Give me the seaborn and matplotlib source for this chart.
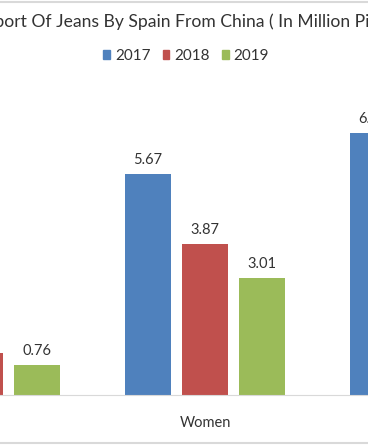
import pandas as pd
import matplotlib.pyplot as plt
import seaborn as sns
from matplotlib.lines import Line2D

# data (hidden bars are estimates)
categories = ['Men', 'Women', 'Kids']
years = ['2017', '2018', '2019']
values_2017 = [1.52, 5.67, 6.72]
values_2018 = [1.08, 3.87, 4.46]
values_2019 = [0.76, 3.01, 3.92]
colors = ['#4F81BD', '#C0504D', '#9BBB59']

rows = []
for yr, vals in zip(years, [values_2017, values_2018, values_2019]):
    for cat, v in zip(categories, vals):
        rows.append({'category': cat, 'year': yr, 'value': v})
df = pd.DataFrame(rows)

sns.set_style('white')
plt.rcParams['font.family'] = ['Lato', 'DejaVu Sans']

W, H = 368, 445
fig = plt.figure(figsize=(W / 100, H / 100), dpi=100)

# axes run past the left/right edges, like the cropped original
left_px = 205 - 1.5 * 225
bottom_px = 50
ax = fig.add_axes([left_px / W, bottom_px / H, 675 / W, 312 / H])

sns.barplot(data=df, x='category', y='value', hue='year', hue_order=years,
            order=categories, palette=colors, saturation=1, width=0.76, gap=0.21,
            linewidth=0, ax=ax)
ax.set_xlim(-0.5, 2.5)
ax.set_ylim(0, 8)

for c in ax.containers:
    ax.bar_label(c, fmt='%.2f', padding=5, fontsize=10.5, color='#333333')

ax.legend_.remove()
for s in ['top', 'left', 'right']:
    ax.spines[s].set_visible(False)
ax.spines['bottom'].set_color('#d9d9d9')
ax.set_yticks([])
ax.set_xlabel('')
ax.set_ylabel('')
ax.tick_params(axis='x', length=0, pad=15, labelsize=10.5, labelcolor='#333333')

fig.text(194 / W, 1 - 22 / H, 'Import Of Jeans By Spain From China ( In Million Pieces )',
         ha='center', va='center', fontsize=12.6, color='#333333')

handles = [plt.Rectangle((0, 0), 1, 1, color=c) for c in colors]
fig.legend(handles, years, loc='center', bbox_to_anchor=(186 / W, 1 - 56 / H),
           ncol=3, frameon=False, fontsize=11, handlelength=0.45, handleheight=0.45,
           handletextpad=0.3, columnspacing=0.8, labelcolor='#333333')

# light frame lines at top and bottom
fig.add_artist(Line2D([0, 1], [1 - 1.5 / H, 1 - 1.5 / H], color='#d9d9d9', lw=1.5))
fig.add_artist(Line2D([0, 1], [1 - 443 / H, 1 - 443 / H], color='#d9d9d9', lw=1.5))

fig.savefig('out.png', dpi=100)
